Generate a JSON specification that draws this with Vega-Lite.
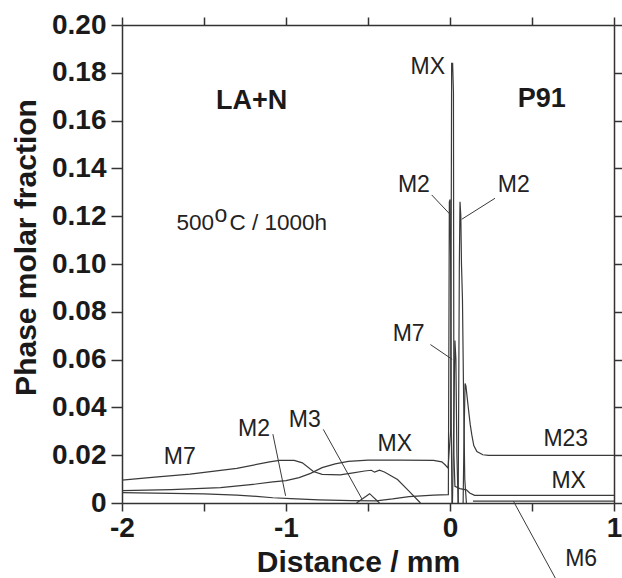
{
  "$schema": "https://vega.github.io/schema/vega-lite/v6.json",
  "width": 492,
  "height": 478,
  "autosize": {"type": "none"},
  "padding": {"left": 122, "top": 25, "right": 8, "bottom": 75},
  "background": "white",
  "config": {"view": {"stroke": null}, "font": "Liberation Sans"},
  "datasets": {
    "curves": [
      {"seg": "MX", "x": -2, "y": 0.0052}, {"seg": "MX", "x": -1.7, "y": 0.0056}, {"seg": "MX", "x": -1.4, "y": 0.0064},
      {"seg": "MX", "x": -1.2, "y": 0.0078}, {"seg": "MX", "x": -1.08, "y": 0.0088}, {"seg": "MX", "x": -1.0, "y": 0.0094},
      {"seg": "MX", "x": -0.92, "y": 0.0106}, {"seg": "MX", "x": -0.85, "y": 0.0124}, {"seg": "MX", "x": -0.78, "y": 0.0148},
      {"seg": "MX", "x": -0.7, "y": 0.0164}, {"seg": "MX", "x": -0.62, "y": 0.0174}, {"seg": "MX", "x": -0.5, "y": 0.0179},
      {"seg": "MX", "x": -0.3, "y": 0.0179}, {"seg": "MX", "x": -0.1, "y": 0.0178}, {"seg": "MX", "x": -0.05, "y": 0.0172},
      {"seg": "MX", "x": -0.03, "y": 0.016}, {"seg": "MX", "x": -0.012, "y": 0.0146}, {"seg": "MX", "x": -0.006, "y": 0.021},
      {"seg": "MX", "x": 0.004, "y": 0.03}, {"seg": "MX", "x": 0.01, "y": 0.184}, {"seg": "MX", "x": 0.016, "y": 0.184},
      {"seg": "MX", "x": 0.021, "y": 0.172}, {"seg": "MX", "x": 0.024, "y": 0.02}, {"seg": "MX", "x": 0.03, "y": 0.007},
      {"seg": "MX", "x": 0.06, "y": 0.006}, {"seg": "MX", "x": 0.1, "y": 0.0055}, {"seg": "MX", "x": 0.12, "y": 0.0042},
      {"seg": "MX", "x": 0.15, "y": 0.0032}, {"seg": "MX", "x": 1, "y": 0.0032},
      {"seg": "M7a", "x": -2, "y": 0.0096}, {"seg": "M7a", "x": -1.8, "y": 0.0108}, {"seg": "M7a", "x": -1.585, "y": 0.0121},
      {"seg": "M7a", "x": -1.3, "y": 0.0145}, {"seg": "M7a", "x": -1.1, "y": 0.0172}, {"seg": "M7a", "x": -1.04, "y": 0.0178},
      {"seg": "M7a", "x": -0.95, "y": 0.0178}, {"seg": "M7a", "x": -0.9, "y": 0.0168}, {"seg": "M7a", "x": -0.833, "y": 0.0132},
      {"seg": "M7a", "x": -0.78, "y": 0.012}, {"seg": "M7a", "x": -0.67, "y": 0.0118}, {"seg": "M7a", "x": -0.6, "y": 0.0125},
      {"seg": "M7a", "x": -0.52, "y": 0.0134}, {"seg": "M7a", "x": -0.48, "y": 0.0137}, {"seg": "M7a", "x": -0.46, "y": 0.0129},
      {"seg": "M7a", "x": -0.43, "y": 0.0137}, {"seg": "M7a", "x": -0.4, "y": 0.013}, {"seg": "M7a", "x": -0.32, "y": 0.0098},
      {"seg": "M7a", "x": -0.25, "y": 0.005}, {"seg": "M7a", "x": -0.18, "y": 0.0},
      {"seg": "M7b", "x": 0.015, "y": 0}, {"seg": "M7b", "x": 0.022, "y": 0.03}, {"seg": "M7b", "x": 0.03, "y": 0.068},
      {"seg": "M7b", "x": 0.036, "y": 0.06}, {"seg": "M7b", "x": 0.042, "y": 0.02}, {"seg": "M7b", "x": 0.05, "y": 0},
      {"seg": "M2a", "x": -2, "y": 0.0043}, {"seg": "M2a", "x": -1.5, "y": 0.0038}, {"seg": "M2a", "x": -1.3, "y": 0.0033},
      {"seg": "M2a", "x": -1.18, "y": 0.0028}, {"seg": "M2a", "x": -1.08, "y": 0.0022}, {"seg": "M2a", "x": -0.97, "y": 0.0018},
      {"seg": "M2a", "x": -0.8, "y": 0.0013}, {"seg": "M2a", "x": -0.6, "y": 0.001}, {"seg": "M2a", "x": -0.45, "y": 0.0009},
      {"seg": "M2a", "x": -0.35, "y": 0.0017}, {"seg": "M2a", "x": -0.25, "y": 0.0027}, {"seg": "M2a", "x": -0.1, "y": 0.0033},
      {"seg": "M2a", "x": -0.01, "y": 0.0035}, {"seg": "M2a", "x": -0.004, "y": 0.126}, {"seg": "M2a", "x": 0.001, "y": 0.127},
      {"seg": "M2a", "x": 0.005, "y": 0.09}, {"seg": "M2a", "x": 0.008, "y": 0.03}, {"seg": "M2a", "x": 0.012, "y": 0},
      {"seg": "M2b", "x": 0.05, "y": 0}, {"seg": "M2b", "x": 0.057, "y": 0.1}, {"seg": "M2b", "x": 0.061, "y": 0.126},
      {"seg": "M2b", "x": 0.066, "y": 0.12}, {"seg": "M2b", "x": 0.07, "y": 0.1}, {"seg": "M2b", "x": 0.076, "y": 0.085},
      {"seg": "M2b", "x": 0.082, "y": 0.05}, {"seg": "M2b", "x": 0.09, "y": 0.01}, {"seg": "M2b", "x": 0.1, "y": 0},
      {"seg": "M3", "x": -0.57, "y": 0}, {"seg": "M3", "x": -0.49, "y": 0.0039}, {"seg": "M3", "x": -0.43, "y": 0},
      {"seg": "M23", "x": 0.08, "y": 0}, {"seg": "M23", "x": 0.086, "y": 0.03}, {"seg": "M23", "x": 0.092, "y": 0.05},
      {"seg": "M23", "x": 0.097, "y": 0.049}, {"seg": "M23", "x": 0.105, "y": 0.044}, {"seg": "M23", "x": 0.113, "y": 0.039},
      {"seg": "M23", "x": 0.123, "y": 0.033}, {"seg": "M23", "x": 0.133, "y": 0.0285}, {"seg": "M23", "x": 0.145, "y": 0.024},
      {"seg": "M23", "x": 0.164, "y": 0.0215}, {"seg": "M23", "x": 0.2, "y": 0.0202}, {"seg": "M23", "x": 0.235, "y": 0.0199},
      {"seg": "M23", "x": 1, "y": 0.0199},
      {"seg": "M6", "x": 0.14, "y": 0.0008}, {"seg": "M6", "x": 1, "y": 0.0008}
    ],
    "leaders": [
      {"x": -1.08, "y": 0.0288, "x2": -1.0024, "y2": 0.003},
      {"x": -0.7726, "y": 0.0308, "x2": -0.537, "y2": 0.0017},
      {"x": -0.1116, "y": 0.1289, "x2": 0.0043, "y2": 0.1205},
      {"x": 0.2744, "y": 0.1275, "x2": 0.0713, "y2": 0.1187},
      {"x": -0.1195, "y": 0.0663, "x2": 0.0134, "y2": 0.0601},
      {"x": 0.3872, "y": 0.0007, "x2": 0.642, "y2": -0.0314}
    ],
    "labels": [
      {"text": "MX", "x": -0.2402, "y": 0.1796},
      {"text": "M2", "x": -0.3177, "y": 0.1303},
      {"text": "M2", "x": 0.2915, "y": 0.1303},
      {"text": "M7", "x": -0.3494, "y": 0.0678},
      {"text": "M7", "x": -1.745, "y": 0.0162},
      {"text": "M2", "x": -1.2927, "y": 0.028},
      {"text": "M3", "x": -0.983, "y": 0.0316},
      {"text": "MX", "x": -0.4415, "y": 0.0216},
      {"text": "M23", "x": 0.5695, "y": 0.0239},
      {"text": "MX", "x": 0.6183, "y": 0.0061},
      {"text": "M6", "x": 0.7024, "y": -0.0263}
    ],
    "bold": [
      {"text": "LA+N", "x": -1.4268, "y": 0.165},
      {"text": "P91", "x": 0.4128, "y": 0.1657}
    ],
    "temp": [
      {"text": "500", "x": -1.6677, "y": 0.11406},
      {"text": "C / 1000h", "x": -1.345, "y": 0.11406}
    ],
    "sup": [
      {"text": "o", "x": -1.436, "y": 0.1175}
    ]
  },
  "layer": [
    {
      "data": {"name": "curves"},
      "mark": {"type": "line", "color": "#3a3a3a", "strokeWidth": 1.2},
      "encoding": {
        "x": {
          "field": "x", "type": "quantitative",
          "scale": {"domain": [-2, 1], "nice": false, "zero": false},
          "axis": {
            "orient": "bottom", "values": [-2, -1.5, -1, -0.5, 0, 0.5, 1],
            "labelExpr": "datum.value % 1 === 0 ? '' + datum.value : ''",
            "labelFont": "Liberation Sans", "labelFontSize": 28, "labelFontWeight": "bold", "labelColor": "#1a1a1a",
            "labelFlush": false, "labelOverlap": false, "labelPadding": 3,
            "tickSize": 8, "tickWidth": 1.5, "tickColor": "#333", "domainColor": "#333", "domainWidth": 1.5, "grid": false,
            "title": "Distance / mm", "titleFont": "Liberation Sans", "titleFontSize": 30, "titleFontWeight": "bold", "titleColor": "#1a1a1a",
            "titleX": 236, "titleY": 68, "titleAlign": "center", "titleBaseline": "alphabetic"
          }
        },
        "y": {
          "field": "y", "type": "quantitative",
          "scale": {"domain": [0, 0.2], "nice": false},
          "axis": {
            "orient": "left", "values": [0, 0.02, 0.04, 0.06, 0.08, 0.1, 0.12, 0.14, 0.16, 0.18, 0.2],
            "labelExpr": "datum.value === 0 ? '0' : format(datum.value, '.2f')",
            "labelFont": "Liberation Sans", "labelFontSize": 28, "labelFontWeight": "bold", "labelColor": "#1a1a1a",
            "labelPadding": 5, "labelOverlap": false,
            "tickSize": 11, "tickWidth": 1.5, "tickColor": "#333", "domainColor": "#333", "domainWidth": 1.5, "grid": false,
            "title": "Phase molar fraction", "titleFont": "Liberation Sans", "titleFontSize": 30, "titleFontWeight": "bold", "titleColor": "#1a1a1a",
            "titleAngle": 270, "titleX": -87, "titleY": 222, "titleAlign": "center", "titleBaseline": "alphabetic"
          }
        },
        "detail": {"field": "seg"}
      }
    },
    {
      "data": {"name": "leaders"},
      "mark": {"type": "rule", "color": "#3a3a3a", "strokeWidth": 1},
      "encoding": {
        "x": {"field": "x", "type": "quantitative", "axis": null},
        "y": {"field": "y", "type": "quantitative", "axis": null},
        "x2": {"field": "x2"},
        "y2": {"field": "y2"}
      }
    },
    {
      "data": {"name": "labels"},
      "mark": {"type": "text", "align": "left", "baseline": "alphabetic", "font": "Liberation Sans", "fontSize": 23, "color": "#222"},
      "encoding": {
        "x": {"field": "x", "type": "quantitative", "axis": null},
        "y": {"field": "y", "type": "quantitative", "axis": null},
        "text": {"field": "text"}
      }
    },
    {
      "data": {"name": "bold"},
      "mark": {"type": "text", "align": "left", "baseline": "alphabetic", "font": "Liberation Sans", "fontSize": 27, "fontWeight": "bold", "color": "#1a1a1a"},
      "encoding": {
        "x": {"field": "x", "type": "quantitative", "axis": null},
        "y": {"field": "y", "type": "quantitative", "axis": null},
        "text": {"field": "text"}
      }
    },
    {
      "data": {"name": "temp"},
      "mark": {"type": "text", "align": "left", "baseline": "alphabetic", "font": "Liberation Sans", "fontSize": 22.5, "color": "#222"},
      "encoding": {
        "x": {"field": "x", "type": "quantitative", "axis": null},
        "y": {"field": "y", "type": "quantitative", "axis": null},
        "text": {"field": "text"}
      }
    },
    {
      "data": {"name": "sup"},
      "mark": {"type": "text", "align": "left", "baseline": "alphabetic", "font": "Liberation Sans", "fontSize": 23, "color": "#222"},
      "encoding": {
        "x": {"field": "x", "type": "quantitative", "axis": null},
        "y": {"field": "y", "type": "quantitative", "axis": null},
        "text": {"field": "text"}
      }
    },
    {
      "data": {"values": [{"x": 0, "y": 0}]},
      "mark": {"type": "point", "opacity": 0},
      "encoding": {
        "x": {"field": "x", "type": "quantitative", "axis": {"orient": "top", "values": [-2, -1.5, -1, -0.5, 0, 0.5, 1], "labels": false, "tickSize": 8, "tickWidth": 1.5, "tickColor": "#333", "domainColor": "#333", "domainWidth": 1.5, "grid": false, "title": null}},
        "y": {"field": "y", "type": "quantitative", "axis": {"orient": "right", "values": [0, 0.02, 0.04, 0.06, 0.08, 0.1, 0.12, 0.14, 0.16, 0.18, 0.2], "labels": false, "tickSize": 8, "tickWidth": 1.5, "tickColor": "#333", "domainColor": "#333", "domainWidth": 1.5, "grid": false, "title": null}}
      }
    }
  ]
}
